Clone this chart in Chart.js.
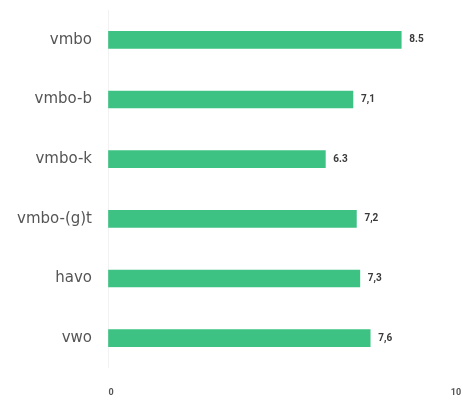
<!DOCTYPE html>
<html>
<head>
<meta charset="utf-8">
<script src="https://cdn.jsdelivr.net/npm/chart.js@4/dist/chart.umd.min.js"></script>
<style>
  html, body { margin: 0; padding: 0; background: #fff; overflow: hidden; }
  #wrap { width: 463px; height: 404px; }
</style>
</head>
<body>
<div id="wrap"><canvas id="chart"></canvas></div>
<script>
// data
const categories = ['vmbo', 'vmbo-b', 'vmbo-k', 'vmbo-(g)t', 'havo', 'vwo'];
const scores = [8.5, 7.1, 6.3, 7.2, 7.3, 7.6];
const scoreLabels = ['8.5', '7,1', '6.3', '7,2', '7,3', '7,6'];
const xTicks = [0, 10];

// value text right of each bar
const valueLabels = {
  id: 'valueLabels',
  afterDatasetsDraw(chart) {
    const ctx = chart.ctx;
    const meta = chart.getDatasetMeta(0);
    ctx.save();
    ctx.font = 'bold 10px Roboto, sans-serif';
    ctx.fillStyle = '#3a3a3a';
    ctx.textAlign = 'left';
    ctx.textBaseline = 'middle';
    meta.data.forEach((bar, i) => {
      ctx.fillText(scoreLabels[i], bar.x + 8, bar.y);
    });
    ctx.restore();
  }
};

new Chart(document.getElementById('chart'), {
  type: 'bar',
  data: {
    labels: categories,
    datasets: [{
      data: scores,
      backgroundColor: '#3dc283',
      borderWidth: 0,
      barThickness: 17
    }]
  },
  options: {
    indexAxis: 'y',
    responsive: true,
    maintainAspectRatio: false,
    animation: false,
    layout: { padding: { top: 10, right: 10, left: 0, bottom: 0 } },
    plugins: {
      legend: { display: false },
      tooltip: { enabled: false }
    },
    scales: {
      x: {
        min: 0,
        max: 10,
        afterBuildTicks(scale) {
          scale.ticks = xTicks.map(v => ({ value: v }));
        },
        afterFit(scale) {
          // the tick padding would otherwise be added to the sides
          scale.height = 36;
          scale.paddingLeft = 0;
          scale.paddingRight = 0;
        },
        border: { display: false },
        grid: {
          drawTicks: false,
          color: ctx => ctx.tick && ctx.tick.value === 0 ? '#f2f2f2' : 'rgba(0,0,0,0)'
        },
        ticks: {
          padding: 19,
          labelOffset: 3,
          color: '#555',
          font: { family: 'Roboto, sans-serif', size: 9, weight: 'bold' }
        }
      },
      y: {
        afterFit(scale) {
          scale.width = 108;
          scale.paddingTop = 0;
          scale.paddingBottom = 0;
        },
        border: { display: false },
        grid: { display: false, drawTicks: false },
        ticks: {
          padding: 16,
          color: '#555',
          font: { family: '"DejaVu Sans", sans-serif', size: 15 }
        }
      }
    }
  },
  plugins: [valueLabels]
});
</script>
</body>
</html>
